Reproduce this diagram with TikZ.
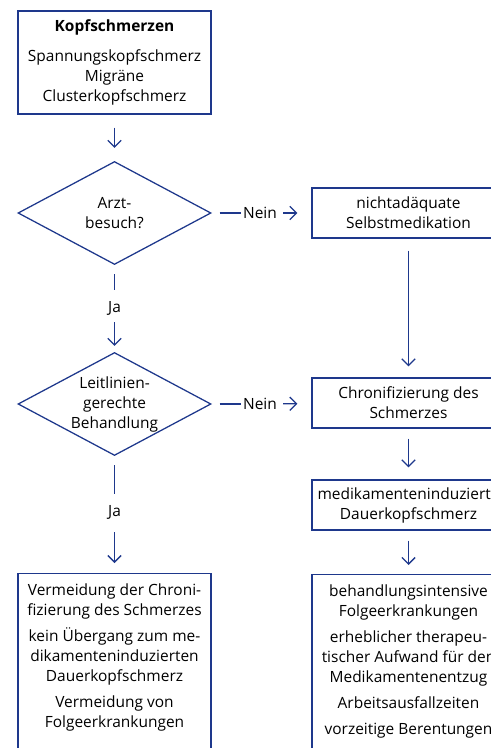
\documentclass[tikz,border=0pt]{standalone}
\usepackage{fontspec}
\setmainfont{Open Sans}
\usetikzlibrary{shapes.geometric,arrows.meta}
\definecolor{flussblau}{RGB}{30,56,140}
\newcommand{\tiefer}{\rule[-30pt]{0pt}{30pt}}

\begin{document}
\begin{tikzpicture}[x=0.75pt,y=-0.75pt,
    font=\fontsize{11.6}{15}\selectfont,
    kasten/.style={draw=flussblau,line width=0.95pt,minimum width=144.75pt,align=center,inner xsep=0pt},
    raute/.style={draw=flussblau,line width=0.95pt,diamond,aspect=1.87,minimum width=144.75pt,minimum height=77.25pt,inner sep=0pt,align=center},
    marke/.style={inner sep=0pt},
    linie/.style={draw=flussblau,line width=0.95pt},
    pfeil/.style={linie,-{Straight Barb[length=5pt,width=10pt]}}]
    \useasboundingbox (0,0) rectangle (491,748);
    \clip (0,0) rectangle (491,748);

    % Linke Spalte
    \node[kasten,minimum height=77.25pt] (kopf) at (114.5,62.5) {\textbf{Kopfschmerzen}\\[8pt]Spannungskopfschmerz\\Migräne\\Clusterkopfschmerz};
    \node[raute] (arzt) at (114.5,213) {Arzt-\\besuch?};
    \node[marke] (ja1) at (114.5,308) {Ja};
    \node[raute] (leit) at (114.5,404) {Leitlinien-\\gerechte\\Behandlung};
    \node[marke] (ja2) at (114.5,512) {Ja};
    \node[kasten,anchor=north,inner ysep=7.8pt] (gut) at (114.5,573) {Vermeidung der Chroni-\\fizierung des Schmerzes\\[4.5pt]kein Übergang zum me-\\dikamenteninduzierten\\Dauerkopfschmerz\\[4.5pt]Vermeidung von\\Folgeerkrankungen\tiefer};

    % Rechte Spalte
    \node[marke] (nein1) at (260,213) {Nein};
    \node[kasten,minimum height=37.5pt] (selbst) at (408.5,213) {nichtadäquate\\Selbstmedikation};
    \node[marke] (nein2) at (260,404) {Nein};
    \node[kasten,minimum height=37.5pt] (chron) at (408.5,403) {Chronifizierung des\\Schmerzes};
    \node[kasten,minimum height=37.5pt] (dauer) at (408.5,505) {medikamenteninduzierte\\Dauerkopfschmerz};
    \node[kasten,anchor=north,inner ysep=7.8pt] (folgen) at (408.5,574) {behandlungsintensive\\Folgeerkrankungen\\[4.5pt]erheblicher therapeu-\\tischer Aufwand für den\\Medikamentenentzug\\[4.5pt]Arbeitsausfallzeiten\\[4.5pt]vorzeitige Berentungen\tiefer};

    % Verbindungen
    \draw[pfeil,shorten <=9.75pt,shorten >=9.75pt] (kopf) -- (arzt);
    \draw[linie,shorten <=6pt,shorten >=1.5pt] (arzt) -- (nein1);
    \draw[pfeil,shorten <=4.5pt,shorten >=10.5pt] (nein1) -- (selbst);
    \draw[linie,shorten <=6.75pt,shorten >=8.25pt] (arzt) -- (ja1);
    \draw[pfeil,shorten <=5.25pt,shorten >=4.5pt] (ja1) -- (leit);
    \draw[linie,shorten <=6pt,shorten >=1.5pt] (leit) -- (nein2);
    \draw[pfeil,shorten <=4.5pt,shorten >=10.5pt] (nein2) -- (chron);
    \draw[linie,shorten <=6.75pt,shorten >=8.25pt] (leit) -- (ja2);
    \draw[pfeil,shorten <=9.75pt,shorten >=7.5pt] (ja2) -- (gut);
    \draw[pfeil,shorten <=9pt,shorten >=8.25pt] (selbst) -- (chron);
    \draw[pfeil,shorten <=7.5pt,shorten >=9pt] (chron) -- (dauer);
    \draw[pfeil,shorten <=7.5pt,shorten >=6.75pt] (dauer) -- (folgen);
\end{tikzpicture}
\end{document}
